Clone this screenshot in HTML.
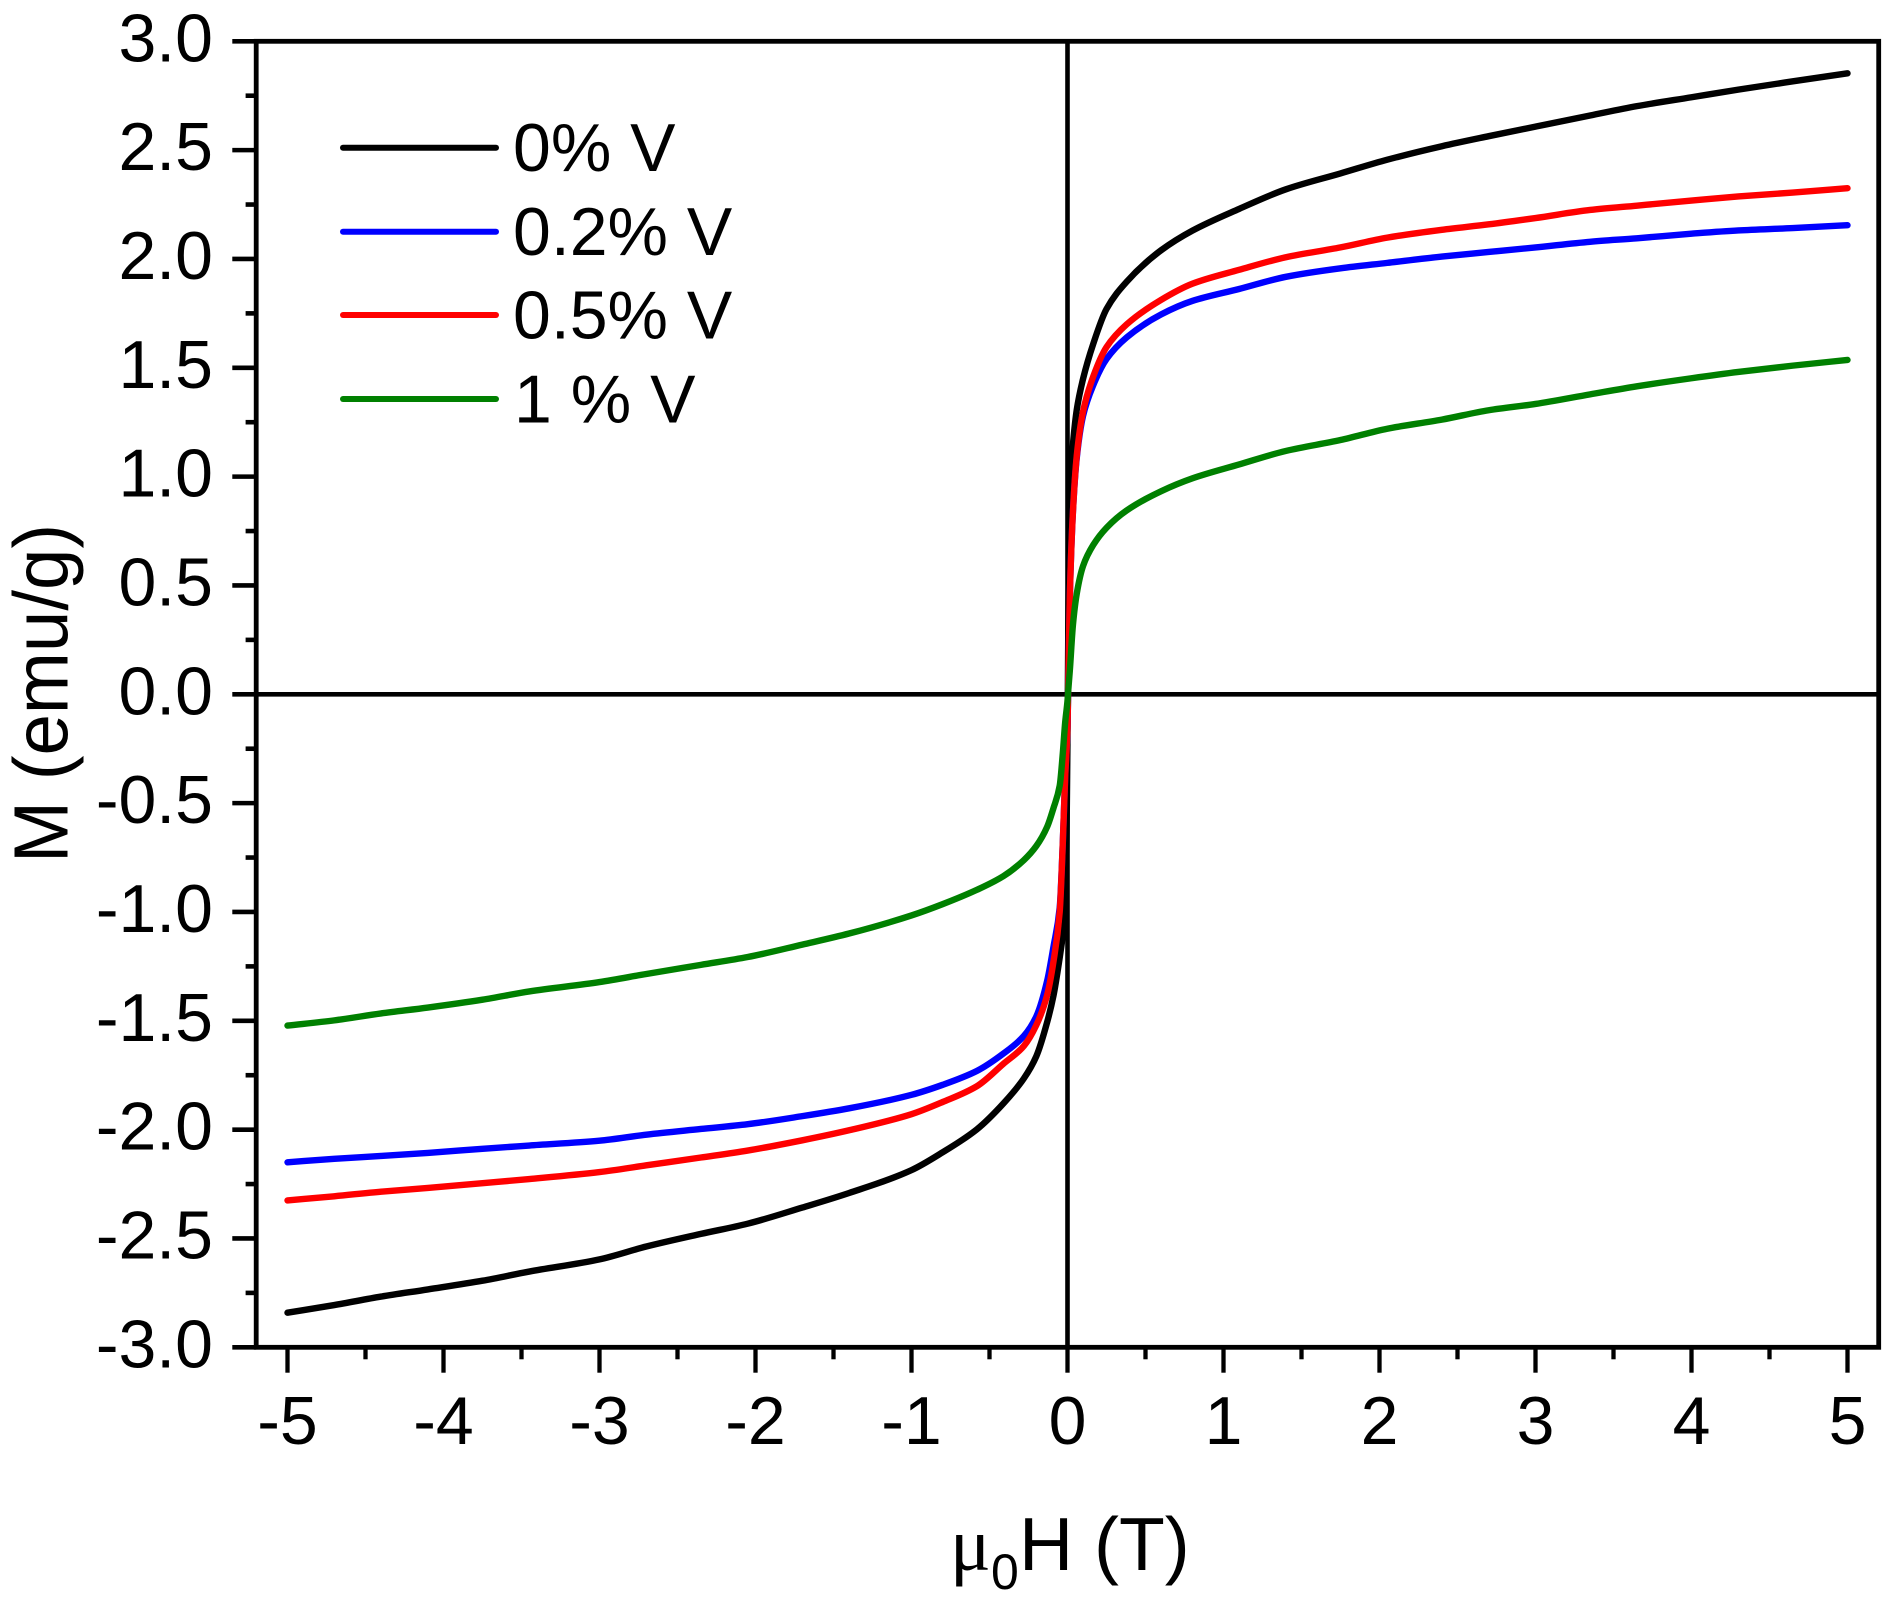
<!DOCTYPE html>
<html lang="en">
<head>
<meta charset="utf-8">
<title>Magnetization vs field</title>
<style>
html,body{margin:0;padding:0;background:#fff;}
svg{display:block;}
text{font-family:"Liberation Sans",Arial,sans-serif;fill:#000;}
</style>
</head>
<body>
<svg id="chart" xmlns="http://www.w3.org/2000/svg" width="1893" height="1604" viewBox="0 0 1893 1604">
  <rect x="0" y="0" width="1893" height="1604" fill="#ffffff"/>
  <rect x="256.2" y="41.3" width="1622.5" height="1306" fill="none" stroke="#000" stroke-width="4.8"/>
  <g id="grid-lines"></g>
  <g id="x-axis"></g>
  <g id="y-axis"></g>
  <g id="series"></g>
  <g id="legend"></g>
  <text transform="translate(67.3,863) rotate(-90) scale(0.967,1)" font-size="77">M (emu/g)</text>
  <text y="1570"><tspan x="950" font-size="76" style="font-family:'Liberation Serif',serif">μ</tspan><tspan x="991" y="1589" font-size="50">0</tspan><tspan x="1019" y="1570" font-size="75">H (T)</tspan></text>
</svg>
<script>
var fieldValues = [-5,-4.7,-4.4,-4.1,-3.75,-3.45,-3,-2.7,-2.35,-2.05,-1.7,-1.4,-1,-0.8,-0.58,-0.41,-0.28,-0.2,-0.13,-0.09,-0.05,-0.03,-0.015,0,0.005,0.015,0.035,0.06,0.1,0.165,0.25,0.38,0.6,0.8,1.1,1.4,1.75,2.05,2.4,2.7,3,3.35,3.65,4,4.3,4.65,5];
var moment0V = [-2.841,-2.806,-2.767,-2.734,-2.694,-2.652,-2.596,-2.537,-2.479,-2.432,-2.358,-2.291,-2.186,-2.104,-1.998,-1.879,-1.765,-1.663,-1.505,-1.385,-1.21,-1.11,-1.03,-0.2,0.3,0.95,1.15,1.31,1.45,1.61,1.77,1.896,2.04,2.13,2.23,2.32,2.393,2.456,2.518,2.564,2.608,2.659,2.702,2.743,2.778,2.816,2.853];
var moment02V = [-2.15,-2.134,-2.121,-2.107,-2.088,-2.073,-2.051,-2.023,-1.997,-1.975,-1.938,-1.902,-1.84,-1.794,-1.73,-1.65,-1.57,-1.48,-1.315,-1.16,-0.98,-0.68,-0.38,-0.15,0.05,0.45,0.84,1.09,1.28,1.42,1.54,1.64,1.745,1.807,1.862,1.918,1.957,1.982,2.011,2.032,2.053,2.079,2.095,2.116,2.131,2.142,2.155];
var moment05V = [-2.325,-2.306,-2.285,-2.268,-2.246,-2.227,-2.195,-2.164,-2.128,-2.096,-2.049,-2.003,-1.929,-1.873,-1.8,-1.697,-1.616,-1.52,-1.38,-1.228,-1,-0.68,-0.38,-0.15,0.05,0.45,0.84,1.1,1.3,1.46,1.595,1.7,1.812,1.886,1.95,2.008,2.053,2.098,2.134,2.159,2.188,2.225,2.245,2.268,2.287,2.305,2.325];
var moment1V = [-1.522,-1.498,-1.466,-1.439,-1.403,-1.365,-1.322,-1.285,-1.243,-1.207,-1.15,-1.099,-1.016,-0.964,-0.898,-0.835,-0.762,-0.697,-0.608,-0.523,-0.42,-0.27,-0.13,-0.03,0.02,0.11,0.32,0.465,0.59,0.686,0.765,0.845,0.933,0.992,1.056,1.118,1.168,1.22,1.262,1.305,1.334,1.378,1.415,1.452,1.481,1.51,1.536];
var xTickLabels = ["-5","-4","-3","-2","-1","0","1","2","3","4","5"];
var yTickLabels = ["3.0","2.5","2.0","1.5","1.0","0.5","0.0","-0.5","-1.0","-1.5","-2.0","-2.5","-3.0"];
var legendLabels = ["0% V","0.2% V","0.5% V","1 % V"];

var NS = "http://www.w3.org/2000/svg";
function xScale(v){ return 1067.5 + 156 * v; }
function yScale(v){ return 694.3 - 217.67 * v; }
function make(tag, attrs, parent){
  var el = document.createElementNS(NS, tag);
  for (var k in attrs) { el.setAttribute(k, attrs[k]); }
  parent.appendChild(el);
  return el;
}
function lineEl(parent, x1, y1, x2, y2, w){
  return make("line", {x1:x1, y1:y1, x2:x2, y2:y2, stroke:"#000", "stroke-width":w}, parent);
}

var gridGroup = document.getElementById("grid-lines");
var zeroV = lineEl(gridGroup, xScale(0), 41.3, xScale(0), 1347.3, 4.6);


var zeroH = lineEl(gridGroup, 256.2, yScale(0), 1878.7, yScale(0), 4.6);



var xGroup = document.getElementById("x-axis");
xTickLabels.forEach(function(label, i){
  var v = parseFloat(label);
  var px = xScale(v);
  var tick = lineEl(xGroup, px, 1347.3, px, 1372.7, 4.3);
  
  
  var t = make("text", {x:px, y:1444, "font-size":68, "text-anchor":"middle"}, xGroup);
  t.textContent = label;
  
  
  if (i < xTickLabels.length - 1) {
    var mid = xScale((v + parseFloat(xTickLabels[i + 1])) / 2);
    var minor = lineEl(xGroup, mid, 1347.3, mid, 1359.3, 4.3);
    
    
  }
});

var yGroup = document.getElementById("y-axis");
yTickLabels.forEach(function(label, i){
  var v = parseFloat(label);
  var py = yScale(v);
  var tick = lineEl(yGroup, 232.3, py, 256.2, py, 4.6);
  
  
  var t = make("text", {x:213, y:py + 20, "font-size":68, "text-anchor":"end"}, yGroup);
  t.textContent = label;
  
  
  if (i < yTickLabels.length - 1) {
    var mid = yScale((v + parseFloat(yTickLabels[i + 1])) / 2);
    var minor = lineEl(yGroup, 245.6, mid, 256.2, mid, 4.6);
    
    
  }
});

// Monotone cubic path through the data points, so the knee of each curve stays smooth.
function buildPath(values){
  var n = values.length;
  var px = fieldValues.map(xScale);
  var py = values.map(yScale);
  var slopes = [];
  for (var i = 0; i < n - 1; i++) {
    slopes.push((py[i + 1] - py[i]) / (px[i + 1] - px[i]));
  }
  var tangents = [slopes[0]];
  for (var j = 1; j < n - 1; j++) {
    var a = slopes[j - 1], b = slopes[j];
    if (a * b <= 0) {
      tangents.push(0);
    } else {
      var h0 = px[j] - px[j - 1], h1 = px[j + 1] - px[j];
      var w1 = 2 * h1 + h0, w2 = h1 + 2 * h0;
      tangents.push((w1 + w2) / (w1 / a + w2 / b));
    }
  }
  tangents.push(slopes[n - 2]);
  var d = "M" + px[0].toFixed(2) + "," + py[0].toFixed(2);
  for (var k = 0; k < n - 1; k++) {
    var dx = (px[k + 1] - px[k]) / 3;
    d += "C" + (px[k] + dx).toFixed(2) + "," + (py[k] + tangents[k] * dx).toFixed(2) + " " +
         (px[k + 1] - dx).toFixed(2) + "," + (py[k + 1] - tangents[k + 1] * dx).toFixed(2) + " " +
         px[k + 1].toFixed(2) + "," + py[k + 1].toFixed(2);
  }
  return d;
}
var seriesGroup = document.getElementById("series");
function drawSeries(values, color){
  return make("path", {d:buildPath(values), fill:"none", stroke:color, "stroke-width":6.4, "stroke-linejoin":"round", "stroke-linecap":"round"}, seriesGroup);
}
var curve0 = drawSeries(moment0V, "#000000");


var curve02 = drawSeries(moment02V, "#0000ff");


var curve05 = drawSeries(moment05V, "#ff0000");


var curve1 = drawSeries(moment1V, "#008000");



var legendGroup = document.getElementById("legend");
var legendColors = ["#000000","#0000ff","#ff0000","#008000"];
var legendRowY = [147.7, 231.7, 315, 399];
legendLabels.forEach(function(label, i){
  var swatch = make("line", {x1:343, y1:legendRowY[i], x2:496, y2:legendRowY[i], stroke:legendColors[i], "stroke-width":6, "stroke-linecap":"round"}, legendGroup);
  
  
  var t = make("text", {x:i === 3 ? 514 : 513, y:legendRowY[i] + 23.5, "font-size":68}, legendGroup);
  t.textContent = label;
  
  
});
</script>
</body>
</html>
